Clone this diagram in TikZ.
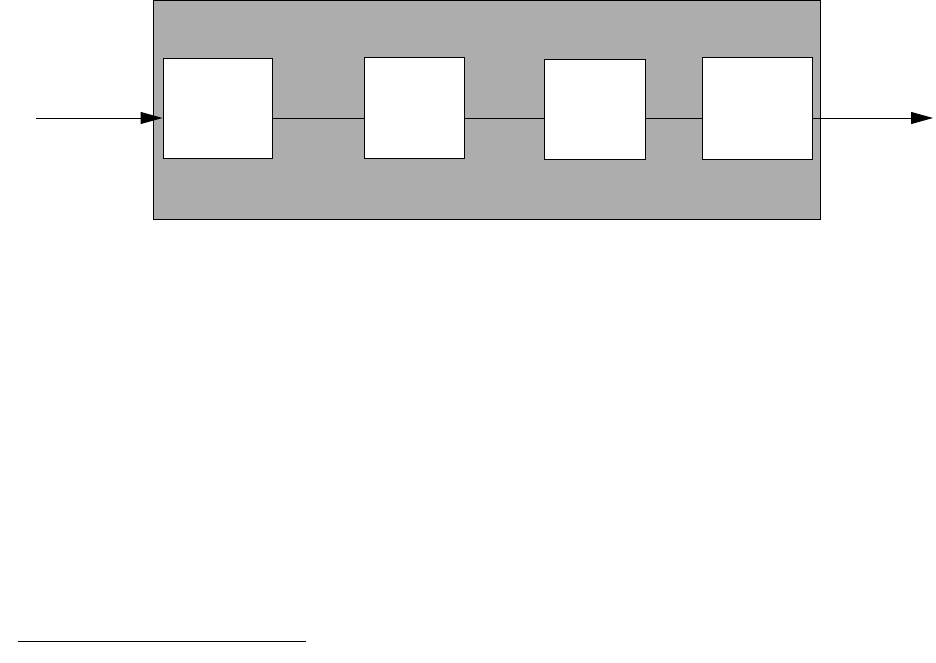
\documentclass[tikz,border=0pt]{standalone}
\usetikzlibrary{arrows.meta}
\definecolor{panelgray}{RGB}{173,173,173}
\begin{document}
\begin{tikzpicture}[x=1pt,y=-1pt,
  blockbox/.style={draw=black,fill=white,line width=0.9pt,inner sep=0pt},
  flow/.style={line width=0.9pt},
  tip/.style={-{Triangle[length=22pt,width=12pt]}}]
\useasboundingbox (0,0) rectangle (936,663);
\node[draw=black,fill=panelgray,line width=0.9pt,inner sep=0pt,minimum width=667pt,minimum height=218pt,anchor=north west] (panel) at (153,0.5) {};
\node[blockbox,minimum width=109pt,minimum height=100pt] (b1) at (217.5,108) {};
\node[blockbox,minimum width=100pt,minimum height=101pt] (b2) at (414,107.5) {};
\node[blockbox,minimum width=101pt,minimum height=100pt] (b3) at (594.5,109) {};
\node[blockbox,minimum width=110pt,minimum height=102pt] (b4) at (757,108) {};
\coordinate (inS) at (36,118);
\coordinate (outE) at (933,118);
\draw[flow,tip] (inS) -- (inS -| b1.west);
\draw[flow] (b1.east |- inS) -- (b2.west |- inS);
\draw[flow] (b2.east |- inS) -- (b3.west |- inS);
\draw[flow] (b3.east |- inS) -- (b4.west |- inS);
\draw[flow,tip] (b4.east |- inS) -- (outE);
\coordinate (fnA) at (18,641);
\coordinate (fnB) at (306,641);
\draw[flow] (fnA) -- (fnB);
\end{tikzpicture}
\end{document}
